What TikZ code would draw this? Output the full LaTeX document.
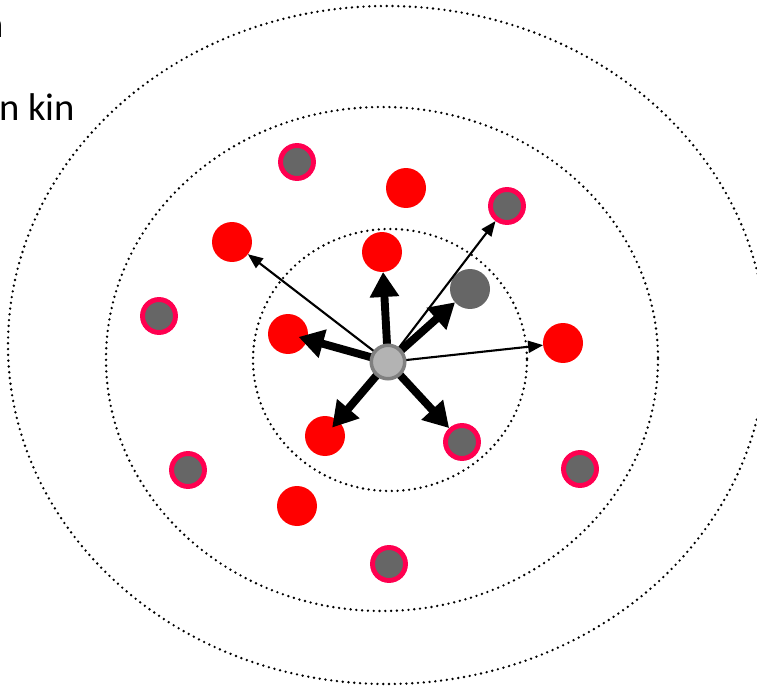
\documentclass[tikz,border=0pt]{standalone}
\usepackage{fontspec}
\setmainfont{Carlito}
\usetikzlibrary{arrows.meta}
\definecolor{ringred}{HTML}{FF0050}
\definecolor{ballgray}{HTML}{666666}
\definecolor{hubfill}{HTML}{B3B3B3}
\definecolor{hubring}{HTML}{808080}
\begin{document}
\begin{tikzpicture}[x=0.02cm,y=-0.02cm,
  orbit/.style={draw=black, line width=1.5pt, line cap=round, dash pattern=on 0pt off 3.3pt},
  redball/.style={circle, fill=red, minimum size=0.8cm, inner sep=0pt, outer sep=0pt},
  ringball/.style={circle, fill=ballgray, draw=ringred, line width=2.8pt, minimum size=0.66cm, inner sep=0pt},
  grayball/.style={circle, fill=ballgray, minimum size=0.8cm, inner sep=0pt, outer sep=0pt},
  hub/.style={circle, fill=hubfill, draw=hubring, line width=2pt, minimum size=0.67cm, inner sep=0pt},
  bigarrow/.style={line width=4.5pt, -{Triangle[length=0.5cm,width=0.56cm]}},
  thinarrow/.style={line width=1.2pt, -{Triangle[length=0.3cm,width=0.24cm]}},
  lbl/.style={inner sep=0pt, font=\fontsize{22pt}{26pt}\selectfont}
]
\clip (0,0) rectangle (757,686);
% orbits
\draw[orbit] (387,345) ellipse [x radius=379, y radius=339];
\draw[orbit] (382,359) ellipse [x radius=276, y radius=252];
\draw[orbit] (390,360) ellipse [x radius=137, y radius=131];
% red balls
\node[redball] (r1) at (406,188) {};
\node[redball] (r2) at (232,242) {};
\node[redball] (r3) at (382,252) {};
\node[redball] (r4) at (288,334) {};
\node[redball] (r5) at (563,343) {};
\node[redball] (r6) at (325,436) {};
\node[redball] (r7) at (297,506) {};
% ringed gray balls
\node[ringball] (g1) at (297,162) {};
\node[ringball] (g2) at (507,206) {};
\node[ringball] (g3) at (159,316) {};
\node[ringball] (g4) at (462,442) {};
\node[ringball] (g5) at (188,470) {};
\node[ringball] (g6) at (580,469) {};
\node[ringball] (g7) at (389,564) {};
% plain gray ball
\node[grayball] (p1) at (470,289) {};
% hub position
\coordinate (c) at (388,362);
% thin arrows
\draw[thinarrow] (c) -- (r2);
\draw[thinarrow] (c) -- (g2);
\draw[thinarrow] (c) -- (r5);
% thick arrows
\draw[bigarrow] (c) -- (r3);
\draw[bigarrow, shorten >=-0.18cm] (c) -- (r4);
\draw[bigarrow] (c) -- (p1);
\draw[bigarrow, shorten >=-0.18cm] (c) -- (r6);
\draw[bigarrow] (c) -- (g4);
% hub
\node[hub] (hub) at (c) {};
% texts
\node[lbl, anchor=base east] (cut) at (4,38) {n};
\node[lbl, anchor=base west] (kin) at (-1,120) {n kin};
\end{tikzpicture}
\end{document}
